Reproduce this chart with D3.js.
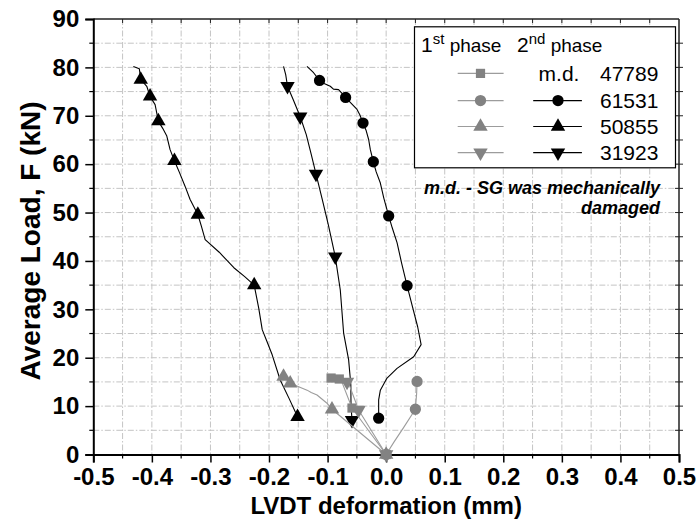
<!DOCTYPE html>
<html>
<head>
<meta charset="utf-8">
<script src="https://cdn.jsdelivr.net/npm/d3@7"></script>
<style>
  body { margin: 0; background: #fff; }
  text { font-family: "Liberation Sans", Arial, Helvetica, sans-serif; }
</style>
</head>
<body>
<svg id="chart" width="696" height="529"></svg>
<script>
// ---- axis ticks ----
const xTickValues = [-0.5, -0.4, -0.3, -0.2, -0.1, 0.0, 0.1, 0.2, 0.3, 0.4, 0.5];
const xTickLabels = ["-0.5", "-0.4", "-0.3", "-0.2", "-0.1", "0.0", "0.1", "0.2", "0.3", "0.4", "0.5"];
const yTickValues = [0, 10, 20, 30, 40, 50, 60, 70, 80, 90];
const yTickLabels = ["0", "10", "20", "30", "40", "50", "60", "70", "80", "90"];

// ---- 2nd phase curves [deformation mm, load kN] ----
const line61531 = [[-0.0128,7.5],[-0.0128,11.3],[-0.0099,13.3],[0.0015,15.8],[0.0186,17.8],[0.047,20.2],[0.0597,22.7],[0.0538,26.4],[0.045,30.5],[0.0357,34.9],[0.0265,39.5],[0.0186,43.8],[0.0105,46.8],[0.0043,49.3],[-0.004,53.0],[-0.0099,56.1],[-0.017,58.4],[-0.0219,60.5],[-0.027,63.0],[-0.0299,65.1],[-0.034,66.9],[-0.0395,68.5],[-0.045,70.2],[-0.0497,71.3],[-0.06,72.6],[-0.0692,73.8],[-0.075,74.6],[-0.0812,75.4],[-0.09,75.5],[-0.0954,76.1],[-0.105,76.6],[-0.1137,77.3],[-0.1239,78.9],[-0.1352,80.2]];
const markers61531 = [[-0.0128,7.5],[0.0357,34.9],[0.0043,49.3],[-0.0219,60.5],[-0.0395,68.5],[-0.0692,73.8],[-0.1137,77.3]];

const line50855 = [[-0.1513,7.8],[-0.1658,11.6],[-0.1809,15.4],[-0.1946,20.6],[-0.204,23.5],[-0.2116,25.8],[-0.2175,30.2],[-0.2253,35.0],[-0.242,36.8],[-0.26,38.6],[-0.285,41.8],[-0.309,44.4],[-0.3155,47.2],[-0.3215,49.6],[-0.3347,52.7],[-0.3432,55.4],[-0.353,58.3],[-0.3615,60.7],[-0.3689,63.0],[-0.3745,65.8],[-0.3815,67.4],[-0.3889,68.9],[-0.3945,72.3],[-0.4031,74.0],[-0.4087,76.1],[-0.419,77.5],[-0.4214,79.7],[-0.4316,80.2]];
const markers50855 = [[-0.1513,7.8],[-0.2253,35.0],[-0.3215,49.6],[-0.3615,60.7],[-0.3889,68.9],[-0.4031,74.0],[-0.419,77.5]];

const line31923 = [[-0.0583,7.1],[-0.06,10.2],[-0.0603,14.4],[-0.0641,19.6],[-0.0726,25.1],[-0.0783,34.0],[-0.0869,40.9],[-0.0988,47.5],[-0.1091,52.7],[-0.1198,58.0],[-0.1279,62.0],[-0.1364,66.1],[-0.1467,69.8],[-0.1586,73.3],[-0.1684,76.1],[-0.1715,78.5],[-0.1752,80.2]];
const markers31923 = [[-0.0583,7.1],[-0.0869,40.9],[-0.1198,58.0],[-0.1467,69.8],[-0.1684,76.1]];

// ---- 1st phase curves ----
const line47789p1 = [[0,0],[-0.0583,9.6],[-0.075,14.8],[-0.08,15.6],[-0.094,15.8]];
const markers47789p1 = [[0,0],[-0.0583,9.6],[-0.08,15.6],[-0.094,15.8]];

const line61531p1 = [[0,0],[0.013,2.5],[0.03,5.6],[0.0499,9.35],[0.052,12.5],[0.0528,15.1],[0.056,15.8]];
const markers61531p1 = [[0,0],[0.0499,9.35],[0.0528,15.1]];

const line50855p1 = [[0,0],[-0.0925,9.35],[-0.101,10.6],[-0.118,12.3],[-0.128,12.8],[-0.135,13.3],[-0.1535,14.2],[-0.1638,14.7],[-0.1752,16.1]];
const markers50855p1 = [[0,0],[-0.0925,9.35],[-0.1638,14.7],[-0.1752,16.1]];

const line31923p1 = [[0,0],[-0.047,9.2],[-0.064,14.7],[-0.0668,15.0]];
const markers31923p1 = [[0,0],[-0.047,9.2],[-0.0668,15.0]];

// ---- legend ----
const legendIds = ["47789", "61531", "50855", "31923"];
const legendSecond = ["m.d.", "circle", "up", "down"];

const BLACK = "#000";
const GRAY = "#828282";
const GRAY_LINE = "#9c9c9c";

const svg = d3.select("#chart");
const m = { left: 93.3, right: 679, top: 19, bottom: 454.5 };

const x = d3.scaleLinear().domain([-0.5, 0.5]).range([m.left, m.right]);
const y = d3.scaleLinear().domain([0, 90]).range([m.bottom, m.top]);

// grid (dash-dot)
const grid = svg.append("g");
const xGrid = d3.range(-0.45, 0.4501, 0.05);
const yGrid = d3.range(5, 86, 5);
grid.selectAll("line.gx").data(xGrid).join("line")
  .attr("x1", d => x(d)).attr("x2", d => x(d))
  .attr("y1", m.top).attr("y2", m.bottom)
  .attr("stroke", "#c4c4c4").attr("stroke-width", 1).attr("stroke-dasharray", "6,2,1.5,2");
grid.selectAll("line.gy").data(yGrid).join("line")
  .attr("y1", d => y(d)).attr("y2", d => y(d))
  .attr("x1", m.left).attr("x2", m.right)
  .attr("stroke", "#c4c4c4").attr("stroke-width", 1).attr("stroke-dasharray", "6,2,1.5,2");

// frame: top and right
svg.append("line").attr("x1", m.left).attr("x2", m.right).attr("y1", m.top).attr("y2", m.top)
  .attr("stroke", "#222").attr("stroke-width", 1.5);
svg.append("line").attr("x1", m.right).attr("x2", m.right).attr("y1", m.top).attr("y2", m.bottom)
  .attr("stroke", "#222").attr("stroke-width", 1.5);

// small ticks on top and right
const minorX = d3.range(-0.45, 0.4501, 0.05);
svg.append("g").selectAll("line").data(minorX).join("line")
  .attr("x1", d => x(d)).attr("x2", d => x(d)).attr("y1", m.top).attr("y2", m.top + 4)
  .attr("stroke", "#222").attr("stroke-width", 1);
svg.append("g").selectAll("line").data(yGrid).join("line")
  .attr("x1", m.right - 4).attr("x2", m.right + 4).attr("y1", d => y(d)).attr("y2", d => y(d))
  .attr("stroke", "#222").attr("stroke-width", 1);

// x axis
const xAxis = d3.axisBottom(x).tickValues(xTickValues)
  .tickFormat((d, i) => xTickLabels[i]).tickSize(8).tickPadding(5);
const gx = svg.append("g").attr("transform", `translate(0,${m.bottom})`).call(xAxis);
gx.select(".domain").attr("stroke", "#000").attr("stroke-width", 2);
gx.selectAll(".tick line").attr("stroke", "#000").attr("stroke-width", 1.5);
gx.selectAll(".tick text").attr("font-size", 24).attr("font-weight", "bold").attr("fill", "#000")
  .attr("font-family", "Liberation Sans, Arial, sans-serif");
svg.append("g").selectAll("line").data(d3.range(-0.45, 0.4501, 0.1)).join("line")
  .attr("x1", d => x(d)).attr("x2", d => x(d)).attr("y1", m.bottom).attr("y2", m.bottom + 4)
  .attr("stroke", "#000").attr("stroke-width", 1.2);

// y axis
const yAxis = d3.axisLeft(y).tickValues(yTickValues)
  .tickFormat((d, i) => yTickLabels[i]).tickSize(8).tickPadding(6);
const gy = svg.append("g").attr("transform", `translate(${m.left},0)`).call(yAxis);
gy.select(".domain").attr("stroke", "#000").attr("stroke-width", 2);
gy.selectAll(".tick line").attr("stroke", "#000").attr("stroke-width", 1.5);
gy.selectAll(".tick text").attr("font-size", 24).attr("font-weight", "bold").attr("fill", "#000")
  .attr("font-family", "Liberation Sans, Arial, sans-serif");
svg.append("g").selectAll("line").data(d3.range(5, 86, 10)).join("line")
  .attr("x1", m.left - 4).attr("x2", m.left).attr("y1", d => y(d)).attr("y2", d => y(d))
  .attr("stroke", "#000").attr("stroke-width", 1.2);

// axis titles
svg.append("text").attr("x", (m.left + m.right) / 2).attr("y", 514)
  .attr("text-anchor", "middle").attr("font-size", 24).attr("font-weight", "bold")
  .text("LVDT deformation (mm)");
svg.append("text").attr("transform", "translate(40,241) rotate(-90)")
  .attr("text-anchor", "middle").attr("font-size", 28).attr("font-weight", "bold")
  .text("Average Load, F (kN)");

// symbols
const symCircle = d3.symbol().type(d3.symbolCircle).size(100)();
const symUp = d3.symbol().type(d3.symbolTriangle).size(90)();
const symSquare = d3.symbol().type(d3.symbolSquare).size(85)();

function markerPath(kind) {
  if (kind === "circle") return { d: symCircle, rot: 0 };
  if (kind === "up") return { d: symUp, rot: 0 };
  if (kind === "down") return { d: symUp, rot: 180 };
  return { d: symSquare, rot: 0 };
}

const lineGen = d3.line().x(d => x(d[0])).y(d => y(d[1]));

function drawSeries(points, marks, kind, color, lineColor, lw) {
  const g = svg.append("g");
  g.append("path").datum(points).attr("d", lineGen)
    .attr("fill", "none").attr("stroke", lineColor).attr("stroke-width", lw)
    .attr("stroke-linejoin", "round");
  const s = markerPath(kind);
  g.selectAll("path.mk").data(marks).join("path").attr("class", "mk")
    .attr("d", s.d)
    .attr("transform", d => `translate(${x(d[0])},${y(d[1])}) rotate(${s.rot})`)
    .attr("fill", color);
}

// 2nd phase (black)
drawSeries(line61531, markers61531, "circle", BLACK, BLACK, 1.1);
drawSeries(line50855, markers50855, "up", BLACK, BLACK, 1.1);
drawSeries(line31923, markers31923, "down", BLACK, BLACK, 1.1);

// 1st phase (gray)
drawSeries(line47789p1, markers47789p1, "square", GRAY, GRAY_LINE, 1.1);
drawSeries(line61531p1, markers61531p1, "circle", GRAY, GRAY_LINE, 1.1);
drawSeries(line50855p1, markers50855p1, "up", GRAY, GRAY_LINE, 1.1);
drawSeries(line31923p1, markers31923p1, "down", GRAY, GRAY_LINE, 1.1);

// legend box
const lg = svg.append("g");
lg.append("rect").attr("x", 414.5).attr("y", 26.8).attr("width", 261).attr("height", 141)
  .attr("fill", "#fff").attr("stroke", "#000").attr("stroke-width", 1.2);

const header = lg.append("text").attr("x", 421).attr("y", 52).attr("font-size", 21);
header.append("tspan").text("1");
header.append("tspan").attr("font-size", 15).attr("dy", -8).text("st");
header.append("tspan").attr("font-size", 19).attr("dy", 8).text(" phase");
const header2 = lg.append("text").attr("x", 517).attr("y", 52).attr("font-size", 21);
header2.append("tspan").text("2");
header2.append("tspan").attr("font-size", 15).attr("dy", -8).text("nd");
header2.append("tspan").attr("font-size", 19).attr("dy", 8).text(" phase");

const rowY = [73.4, 100.6, 126.5, 152.7];
const firstKinds = ["square", "circle", "up", "down"];
legendIds.forEach((id, i) => {
  const cy = rowY[i];
  // 1st phase sample
  lg.append("line").attr("x1", 457.7).attr("x2", 503.6).attr("y1", cy).attr("y2", cy)
    .attr("stroke", GRAY_LINE).attr("stroke-width", 1.2);
  const s1 = markerPath(firstKinds[i]);
  lg.append("path").attr("d", s1.d).attr("fill", GRAY)
    .attr("transform", `translate(480.5,${cy}) rotate(${s1.rot})`);
  // 2nd phase sample
  if (legendSecond[i] === "m.d.") {
    lg.append("text").attr("x", 559).attr("y", cy + 7.5).attr("text-anchor", "middle")
      .attr("font-size", 21).text("m.d.");
  } else {
    lg.append("line").attr("x1", 533.2).attr("x2", 581.9).attr("y1", cy).attr("y2", cy)
      .attr("stroke", BLACK).attr("stroke-width", 1.2);
    const s2 = markerPath(legendSecond[i]);
    lg.append("path").attr("d", s2.d).attr("fill", BLACK)
      .attr("transform", `translate(558,${cy}) rotate(${s2.rot})`);
  }
  lg.append("text").attr("x", 600).attr("y", cy + 7.5).attr("font-size", 21).text(id);
});

// note
const note = svg.append("text").attr("text-anchor", "end").attr("font-size", 18)
  .attr("font-weight", "bold").attr("font-style", "italic");
note.append("tspan").attr("x", 660).attr("y", 194).text("m.d. - SG was mechanically");
note.append("tspan").attr("x", 660).attr("y", 214).text("damaged");
</script>
</body>
</html>
